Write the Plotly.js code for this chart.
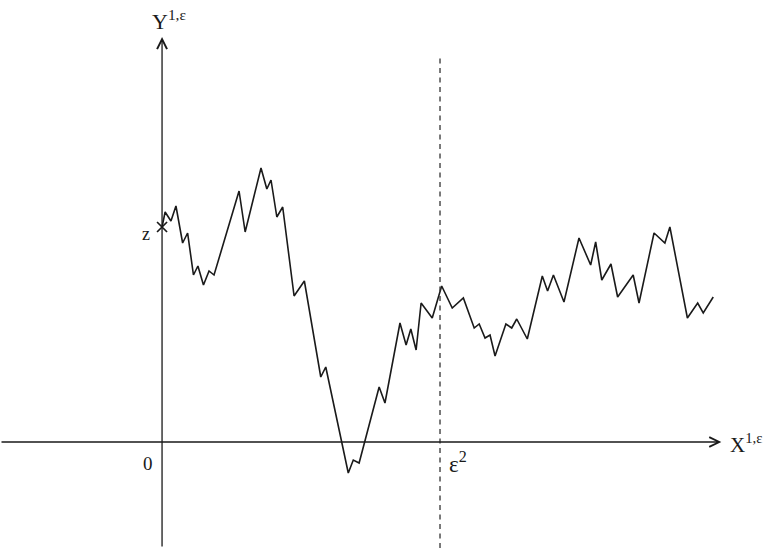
<!DOCTYPE html>
<html>
<head>
<meta charset="utf-8">
<script src="https://cdn.plot.ly/plotly-3.0.1.min.js"></script>
<style>
  html, body { margin: 0; padding: 0; background: #fff; }
  #chart { width: 763px; height: 548px; }
</style>
</head>
<body>
<div id="chart"></div>
<script>
// trajectoire de Y^{1,ε} (temps en unités de ε²)
const T = [0, 0.011, 0.032, 0.050, 0.074, 0.092, 0.113, 0.129, 0.149, 0.169,
  0.187, 0.277, 0.299, 0.356, 0.377, 0.392, 0.413, 0.434, 0.475, 0.512,
  0.571, 0.589, 0.670, 0.688, 0.709, 0.781, 0.802, 0.856, 0.878, 0.895,
  0.914, 0.932, 0.972, 1.006, 1.044, 1.084, 1.123, 1.141, 1.162, 1.180,
  1.198, 1.237, 1.258, 1.276, 1.314, 1.368, 1.387, 1.408, 1.446, 1.500,
  1.542, 1.560, 1.582, 1.615, 1.639, 1.695, 1.716, 1.770, 1.809, 1.827,
  1.890, 1.927, 1.947, 1.983];
const Y = [2.15, 2.30, 2.21, 2.36, 1.99, 2.09, 1.67, 1.76, 1.57, 1.71,
  1.67, 2.51, 2.10, 2.74, 2.53, 2.62, 2.25, 2.35, 1.46, 1.61,
  0.65, 0.75, -0.31, -0.18, -0.21, 0.55, 0.39, 1.19, 0.97, 1.13,
  0.92, 1.39, 1.24, 1.56, 1.34, 1.44, 1.14, 1.18, 1.04, 1.07,
  0.86, 1.18, 1.14, 1.23, 1.03, 1.66, 1.51, 1.67, 1.40, 2.04,
  1.77, 2.00, 1.62, 1.78, 1.45, 1.67, 1.39, 2.09, 1.99, 2.15,
  1.24, 1.39, 1.29, 1.45];
const EPS2 = 1;          // instant ε²
const LABELS = { y: 'Y<sup>1,ε</sup>', x: 'X<sup>1,ε</sup>', zero: '0', z: 'z', eps: 'ε<sup>2</sup>' };

// cadre (unités des axes)
const XR = [-0.583, 2.162], YR = [-1.06, 4.42];
const INK = '#1a1a1a';
const SERIF = 'Liberation Serif, DejaVu Serif, serif';

const traces = [
  { x: T, y: Y, type: 'scatter', mode: 'lines', line: { color: INK, width: 1.6 }, hoverinfo: 'skip' },
  { x: [T[0]], y: [Y[0]], type: 'scatter', mode: 'markers',
    marker: { symbol: 'x-thin', size: 10, line: { color: INK, width: 1.7 } }, hoverinfo: 'skip' }
];

function axisArrow(x, y, ax, ay) {
  return { x, y, ax, ay, xref: 'x', yref: 'y', axref: 'x', ayref: 'y', text: '', showarrow: true,
    arrowhead: 5, arrowsize: 1.5, arrowwidth: 1.3, arrowcolor: INK, standoff: 0, startstandoff: 0 };
}
function label(text, x, y, size, xanchor, yanchor) {
  return { text, x, y, xref: 'x', yref: 'y', showarrow: false, xanchor: xanchor || 'center', yanchor: yanchor || 'middle',
    font: { family: SERIF, size, color: INK } };
}

const layout = {
  width: 763, height: 548,
  margin: { l: 0, r: 0, t: 0, b: 0 },
  paper_bgcolor: '#fff', plot_bgcolor: '#fff',
  showlegend: false,
  xaxis: { range: XR, visible: false, fixedrange: true },
  yaxis: { range: YR, visible: false, fixedrange: true },
  shapes: [
    { type: 'line', xref: 'x', yref: 'y', x0: EPS2, x1: EPS2, y0: YR[0], y1: 3.87,
      line: { color: '#333', width: 1.3, dash: '5px,4.5px' } }
  ],
  annotations: [
    axisArrow(0, 4.05, 0, YR[0]),
    axisArrow(2.012, 0, XR[0], 0),
    label(LABELS.y, -0.045, 4.22, 22, 'left'),
    label(LABELS.x, 2.036, -0.01, 21, 'left'),
    label(LABELS.zero, -0.05, -0.21, 19),
    label(LABELS.z, -0.058, 2.08, 18),
    label(LABELS.eps, 1.025, -0.2, 23, 'left')
  ]
};

Plotly.newPlot('chart', traces, layout, { staticPlot: true, displayModeBar: false });
</script>
</body>
</html>
